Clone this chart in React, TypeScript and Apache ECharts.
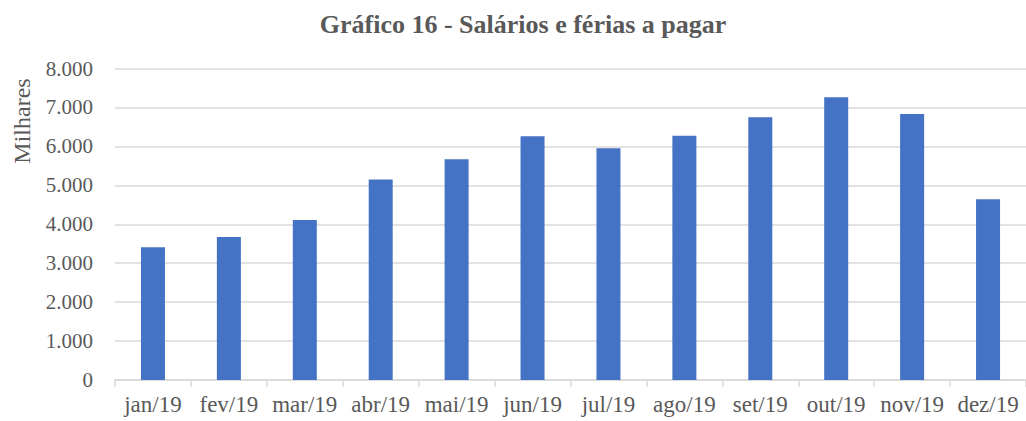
import React, { useEffect, useRef } from "react";
import * as echarts from "echarts";

const categories = ["jan/19", "fev/19", "mar/19", "abr/19", "mai/19", "jun/19", "jul/19", "ago/19", "set/19", "out/19", "nov/19", "dez/19"];
const values = [3410, 3670, 4110, 5150, 5670, 6260, 5950, 6270, 6750, 7260, 6830, 4640];
const yTicks = [0, 1000, 2000, 3000, 4000, 5000, 6000, 7000, 8000];
const title = "Gráfico 16 - Salários e férias a pagar";
const yName = "Milhares";

const FONT = "'Liberation Serif', 'Times New Roman', serif";
const GRAY = "#595959";

export default function App() {
  const ref = useRef<HTMLDivElement>(null);
  useEffect(() => {
    if (!ref.current) return;
    const chart = echarts.init(ref.current, null, { renderer: "svg" });
    chart.setOption({
      animation: false,
      title: {
        text: title,
        left: 518,
        textAlign: "center",
        top: 6,
        textStyle: { fontFamily: FONT, fontSize: 26, fontWeight: "bold", color: GRAY },
      },
      graphic: [
        {
          type: "text",
          x: 22,
          y: 121,
          rotation: Math.PI / 2,
          style: {
            text: yName,
            fontFamily: FONT,
            fontSize: 24,
            fill: GRAY,
            align: "center",
            verticalAlign: "middle",
          },
        },
      ],
      grid: { left: 115, top: 68.5, width: 920, height: 311.5, containLabel: false },
      xAxis: {
        type: "category",
        data: categories,
        axisLine: { lineStyle: { color: "#d9d9d9", width: 1.5 } },
        axisTick: { show: true, alignWithLabel: false, length: 7, lineStyle: { color: "#d9d9d9", width: 1.5 } },
        axisLabel: { fontFamily: FONT, fontSize: 23, color: GRAY, margin: 13, interval: 0 },
      },
      yAxis: {
        type: "value",
        min: yTicks[0],
        max: yTicks[yTicks.length - 1],
        interval: 1000,
        axisLine: { show: false },
        axisTick: { show: false },
        axisLabel: {
          fontFamily: FONT,
          fontSize: 21,
          color: GRAY,
          margin: 22,
          formatter: (v: number) => v.toLocaleString("de-DE"),
        },
        splitLine: { lineStyle: { color: "#d9d9d9", width: 1.5 } },
      },
      series: [
        {
          type: "bar",
          data: values,
          barWidth: 24,
          itemStyle: { color: "#4472c4" },
        },
      ],
    });
    return () => chart.dispose();
  }, []);
  return <div ref={ref} style={{ position: "fixed", left: 0, top: 0, width: 1026, height: 421, background: "#fff" }} />;
}
